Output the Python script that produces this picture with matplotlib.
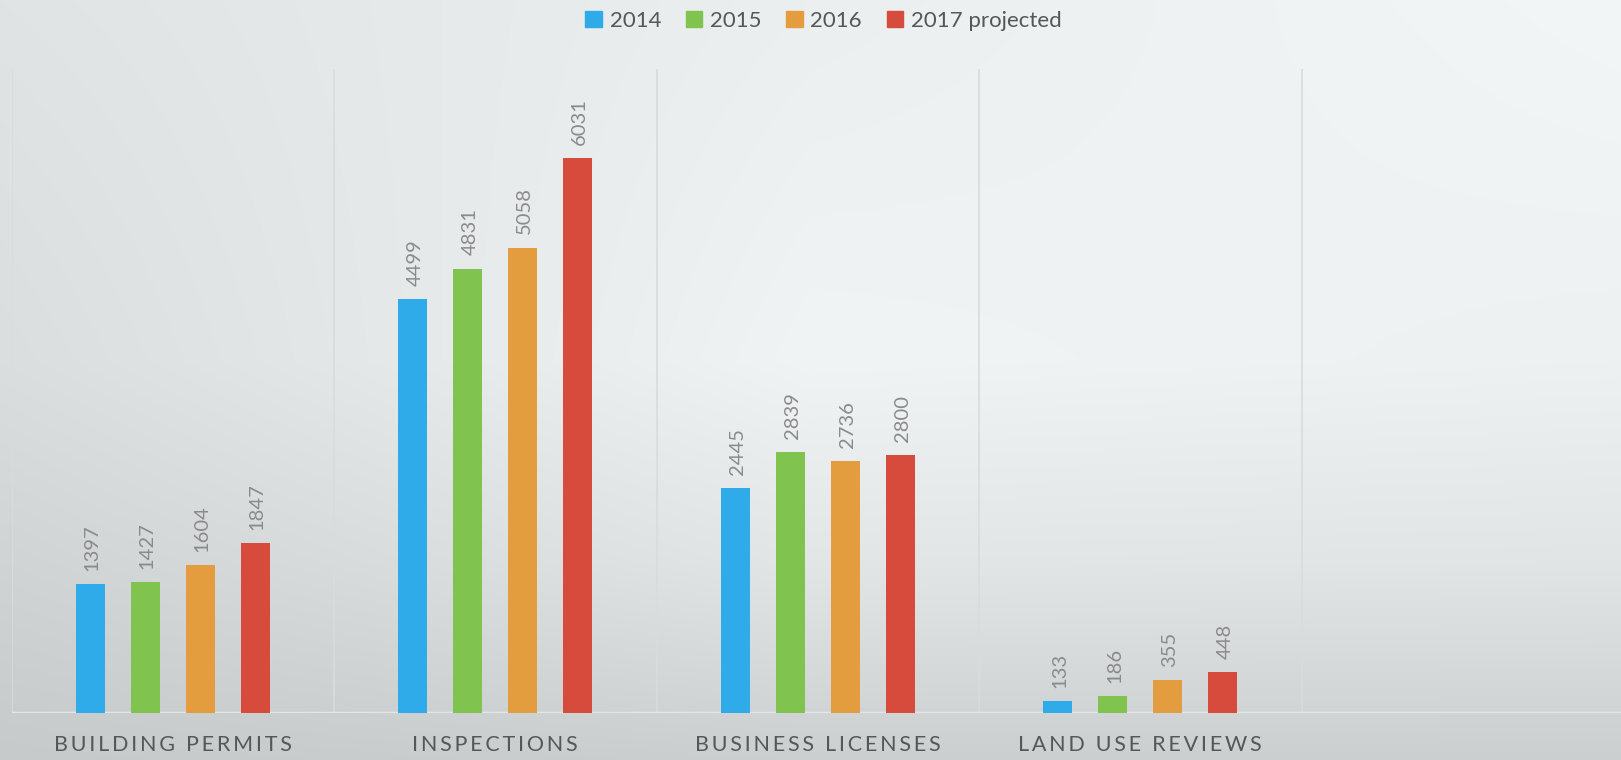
import numpy as np
import matplotlib
matplotlib.use("Agg")
import matplotlib.pyplot as plt
from matplotlib.patches import Rectangle

plt.rcParams['font.family'] = ['Lato', 'DejaVu Sans']

categories = ["BUILDING PERMITS", "INSPECTIONS", "BUSINESS LICENSES", "LAND USE REVIEWS"]
years = ["2014", "2015", "2016", "2017 projected"]
values_2014 = [1397, 4499, 2445, 133]
values_2015 = [1427, 4831, 2839, 186]
values_2016 = [1604, 5058, 2736, 355]
values_2017 = [1847, 6031, 2800, 448]
colors = ["#2fabea", "#80c34f", "#e39d3f", "#d64b3c"]

series = [values_2014, values_2015, values_2016, values_2017]

W, H = 1621, 760
fig = plt.figure(figsize=(W / 100, H / 100), dpi=100)

# soft grey backdrop: bright in the upper middle, darker toward the bottom
gx = np.array([0, 810, 1621])
gy = np.array([0, 360, 560, 760])
grid = np.array([[227, 238, 245],
                 [221, 243, 240],
                 [211, 229, 228],
                 [201, 206, 206]], dtype=float)
rows = np.array([np.interp(np.arange(W), gx, r) for r in grid])
shade = np.array([np.interp(np.arange(H), gy, rows[:, j]) for j in range(W)]).T
img = np.dstack([shade - 2, shade + 1, shade + 2]) / 255.0
bg = fig.add_axes([0, 0, 1, 1], zorder=-10)
bg.imshow(np.clip(img, 0, 1), aspect="auto", extent=[0, 1, 0, 1], origin="upper")
bg.axis("off")

left = 11.5 / W
bottom = 1 - 713 / H
top = 1 - 69 / H
ax = fig.add_axes([left, bottom, 1 - left, top - bottom])
ax.patch.set_alpha(0)

slot = 322.5
ax.set_xlim(-0.5, -0.5 + (W - 11.5) / slot)
ax.set_ylim(0, 7000)

step = 55 / slot
width = 29 / slot
x = np.arange(len(categories))
for i, (vals, c) in enumerate(zip(series, colors)):
    pos = x + (i - 1.5) * step
    ax.bar(pos, vals, width=width, color=c, zorder=3, label=years[i])
    for px, v in zip(pos, vals):
        ax.annotate(str(v), (px, v), xytext=(1.5, 9.5), textcoords="offset points",
                    rotation=90, ha="center", va="bottom", fontsize=14.5,
                    color="#8a8a8a", zorder=4)

# vertical separators between categories
for b in np.arange(-0.5, 4.0, 1.0):
    ax.axvline(b, color="#d9dbdc", lw=1.2, zorder=1)
ax.axhline(0, color="#e4e5e6", lw=2.5, zorder=2)

for s in ax.spines.values():
    s.set_visible(False)
ax.set_yticks([])
ax.set_xticks(x)
ax.set_xticklabels(["\u2009".join(c) for c in categories], fontsize=15.5,
                   color="#555759")
ax.tick_params(axis="x", length=0, pad=16)

handles = [Rectangle((0, 0), 1, 1, color=c) for c in colors]
fig.legend(handles, years, loc="upper center", bbox_to_anchor=(0.508, 1.012),
           ncol=4, frameon=False, fontsize=16, handlelength=0.75,
           handleheight=0.75, handletextpad=0.35, columnspacing=1.1,
           labelcolor="#555759")

fig.savefig("out.png", dpi=100)
